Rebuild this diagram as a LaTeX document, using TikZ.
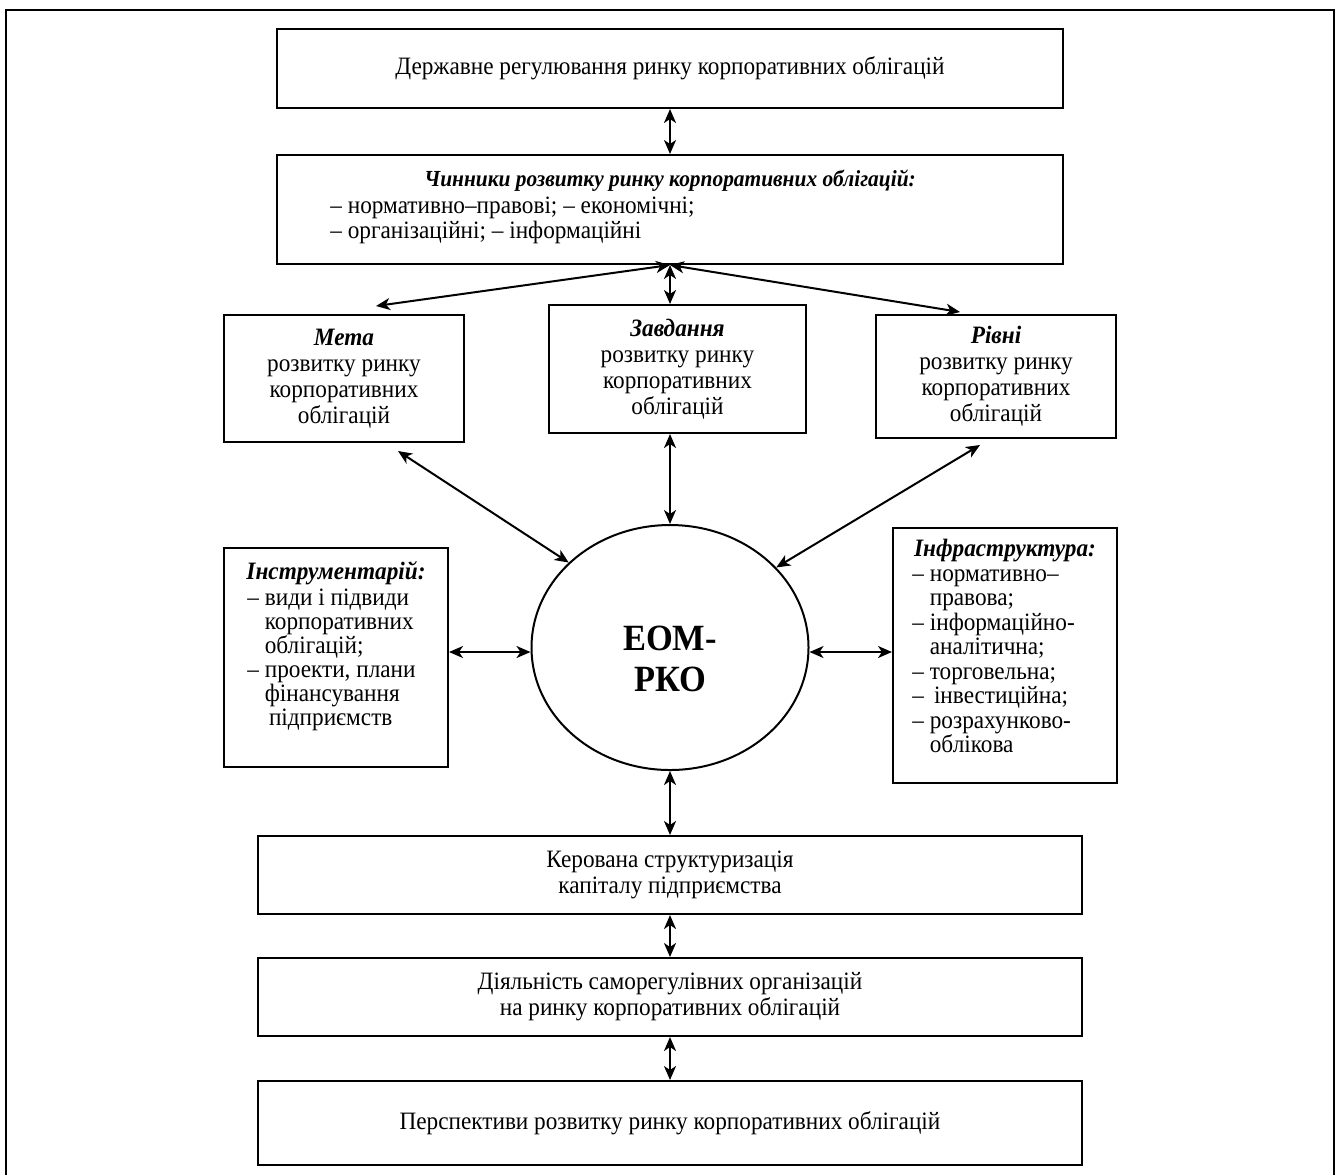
\documentclass[tikz,border=0pt]{standalone}
\usepackage{fontspec}
\setmainfont{Liberation Serif}[FakeStretch=0.93]
\usetikzlibrary{arrows.meta,shapes.geometric}
\begin{document}
\begin{tikzpicture}[x=0.5pt,y=-0.5pt,
  box/.style={draw, line width=1pt, inner sep=0pt, align=center,
    font=\fontsize{12.5}{13}\selectfont},
  txt/.style={inner sep=0pt, font=\fontsize{12.5}{13}\selectfont},
  hd/.style={inner sep=0pt, font=\fontsize{12.5}{13}\selectfont\bfseries\itshape},
  dbl/.style={line width=1pt,
    {Stealth[length=7pt,width=6pt,inset=2pt]}-{Stealth[length=7pt,width=6pt,inset=2pt]}}]

\useasboundingbox (0,0) rectangle (1338,1175);
% outer frame, open at the bottom
\draw[line width=1.2pt] (6,1175) -- (6,10) -- (1334,10) -- (1334,1175);

% top blocks
\node[box, minimum width=393pt, minimum height=39.5pt] (reg) at (670,68.5)
  {Державне регулювання ринку корпоративних облігацій};
\node[box, minimum width=393pt, minimum height=54.5pt] (chin) at (670,209.5) {};
\node[hd, font=\fontsize{11.5}{13}\selectfont\bfseries\itshape, anchor=base] (chinT)
  at (670,186) {Чинники розвитку ринку корпоративних облігацій:};
\node[txt, anchor=base west] (chin1) at (330,213) {– нормативно–правові; – економічні;};
\node[txt, anchor=base west] (chin2) at (330,238) {– організаційні; – інформаційні};

% middle row
\node[box, minimum width=120pt, minimum height=63.5pt] (meta) at (344,378.5)
  {\textbf{\textit{Мета}}\\розвитку ринку\\корпоративних\\облігацій};
\node[box, minimum width=128.5pt, minimum height=64pt] (zav) at (677.5,369)
  {\textbf{\textit{Завдання}}\\розвитку ринку\\корпоративних\\облігацій};
\node[box, minimum width=120pt, minimum height=61.5pt] (riv) at (996,376.5)
  {\textbf{\textit{Рівні}}\\розвитку ринку\\корпоративних\\облігацій};

% central ellipse
\node[draw, ellipse, line width=1pt, minimum width=138.5pt, minimum height=122.5pt,
  inner sep=0pt] (eom) at (670,647.5) {};
\node[inner sep=0pt, align=center, font=\fontsize{18.5}{20.5}\selectfont\bfseries]
  (eomT) at (670,659) {ЕОМ-\\РКО};

% side boxes
\node[box, minimum width=112pt, minimum height=109.5pt] (instr) at (336,657.5) {};
\node[hd, anchor=base] (instrT) at (336,579) {Інструментарій:};
\foreach \t [count=\i] in {{– види і підвиди},{\phantom{– }корпоративних},
    {\phantom{– }облігацій;},{– проекти, плани},{\phantom{– }фінансування},
    {\phantom{– }\,підприємств}}
  \node[txt, anchor=base west] (instr-\i) at (247,581+24*\i) {\t};

\node[box, minimum width=112pt, minimum height=127.5pt] (infra) at (1005,655.5) {};
\node[hd, anchor=base] (infraT) at (1005,556) {Інфраструктура:};
\foreach \t [count=\i] in {{– нормативно–},{\phantom{– }правова;},
    {– інформаційно-},{\phantom{– }аналітична;},{– торговельна;},
    {– \,інвестиційна;},{– розрахунково-},{\phantom{– }облікова}}
  \node[txt, anchor=base west] (infra-\i) at (912,556.5+24.5*\i) {\t};

% bottom blocks
\node[box, minimum width=412pt, minimum height=39pt] (ker) at (670,875)
  {Керована структуризація\\капіталу підприємства};
\node[box, minimum width=412pt, minimum height=39pt] (diy) at (670,997)
  {Діяльність саморегулівних організацій\\на ринку корпоративних облігацій};
\node[box, minimum width=412pt, minimum height=42pt] (persp) at (670,1123)
  {Перспективи розвитку ринку корпоративних облігацій};

% connectors
\coordinate (ay) at (670,652);
\draw[dbl] (reg.south) -- (chin.north);
\draw[dbl] (chin.south) -- ([xshift=16pt,yshift=4pt]meta.north);
\draw[dbl] (chin.south) -- (chin.south |- zav.north);
\draw[dbl] (chin.south) -- ([xshift=-18pt,yshift=1pt]riv.north);
\draw[dbl] ([xshift=-33.5pt,yshift=-4pt]meta.south east) -- (eom.140);
\draw[dbl] (eom.north |- zav.south) -- (eom.north);
\draw[dbl] ([xshift=-8pt,yshift=-3pt]riv.south) -- (eom.37);
\draw[dbl] (instr.east |- ay) -- (eom.west |- ay);
\draw[dbl] (eom.east |- ay) -- (infra.west |- ay);
\draw[dbl] (eom.south) -- (ker.north);
\draw[dbl] (ker.south) -- (diy.north);
\draw[dbl] (diy.south) -- (persp.north);
\end{tikzpicture}
\end{document}
